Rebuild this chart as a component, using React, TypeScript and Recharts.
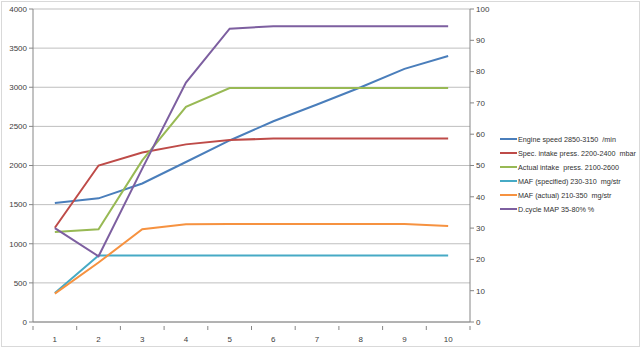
import React from 'react';
import {
  LineChart,
  Line,
  XAxis,
  YAxis,
  CartesianGrid,
  Legend,
} from 'recharts';

// Data
const categories = ['1', '2', '3', '4', '5', '6', '7', '8', '9', '10'];
const engineSpeed = [1520, 1580, 1770, 2045, 2320, 2565, 2780, 3000, 3235, 3400];
const specIntake = [1205, 2000, 2165, 2270, 2325, 2345, 2345, 2345, 2345, 2345];
const actualIntake = [1150, 1185, 2065, 2750, 2990, 2990, 2990, 2990, 2990, 2990];
const mafSpecified = [370, 850, 850, 850, 850, 850, 850, 850, 850, 850];
const mafActual = [362, 760, 1185, 1250, 1252, 1252, 1252, 1252, 1252, 1228];
const dCycleMap = [30, 21, 49, 76.5, 93.7, 94.5, 94.5, 94.5, 94.5, 94.5];

const leftTicks = [0, 500, 1000, 1500, 2000, 2500, 3000, 3500, 4000];
const rightTicks = [0, 10, 20, 30, 40, 50, 60, 70, 80, 90, 100];

const series = [
  { key: 'engine', name: 'Engine speed 2850-3150  /min', color: '#4a7ebb', axis: 'left' },
  { key: 'spec', name: 'Spec. intake press. 2200-2400  mbar', color: '#be4b48', axis: 'left' },
  { key: 'actual', name: 'Actual intake  press. 2100-2600', color: '#98b954', axis: 'left' },
  { key: 'mafSpec', name: 'MAF (specified) 230-310  mg/str', color: '#46aac5', axis: 'left' },
  { key: 'mafAct', name: 'MAF (actual) 210-350  mg/str', color: '#f69240', axis: 'left' },
  { key: 'dcycle', name: 'D.cycle MAP 35-80% %', color: '#7d5fa0', axis: 'right' },
];

const data = categories.map((c, i) => ({
  name: c,
  engine: engineSpeed[i],
  spec: specIntake[i],
  actual: actualIntake[i],
  mafSpec: mafSpecified[i],
  mafAct: mafActual[i],
  dcycle: dCycleMap[i],
}));

const FONT = '"Liberation Sans", Arial, sans-serif';
const AXIS_GRAY = '#868686';
const LABEL = '#404040';

// plot area 33..470 => band width, used for padding and boundary tick marks
const BAND = (470 - 33) / categories.length;

const XTick = (props: any) => {
  const { x, y, payload, index } = props;
  return (
    <g>
      <line x1={x - BAND / 2} y1={y - 4} x2={x - BAND / 2} y2={y} stroke={AXIS_GRAY} />
      {index === categories.length - 1 && (
        <line x1={x + BAND / 2} y1={y - 4} x2={x + BAND / 2} y2={y} stroke={AXIS_GRAY} />
      )}
      <text x={x} y={y + 12} textAnchor="middle" fontSize={8} fill={LABEL} fontFamily={FONT}>
        {payload.value}
      </text>
    </g>
  );
};

const LegendBox = () => (
  <div style={{ fontFamily: FONT, fontSize: 7.2, color: '#303030' }}>
    {series.map((s) => (
      <div key={s.key} style={{ display: 'flex', alignItems: 'center', height: 14 }}>
        <span style={{ display: 'inline-block', width: 17, height: 2, background: s.color, marginRight: 1 }} />
        <span style={{ whiteSpace: 'pre' }}>{s.name}</span>
      </div>
    ))}
  </div>
);

export default function App() {
  return (
    <div style={{ position: 'absolute', left: 0, top: 0, width: 640, height: 348, background: '#fff' }}>
      <div
        style={{
          position: 'absolute',
          left: 1,
          top: 1,
          width: 639,
          height: 346,
          border: '1px solid #d9d9d9',
          boxSizing: 'border-box',
          pointerEvents: 'none',
        }}
      />
      <LineChart
        width={640}
        height={348}
        data={data}
        margin={{ top: 9, right: 10, left: 0, bottom: 6 }}
      >
        <CartesianGrid vertical={false} stroke="#bfbfbf" yAxisId="left" />
        <XAxis
          dataKey="name"
          height={20}
          tick={<XTick />}
          tickLine={false}
          axisLine={{ stroke: AXIS_GRAY }}
          interval={0}
          padding={{ left: BAND / 2, right: BAND / 2 }}
        />
        <YAxis
          yAxisId="left"
          width={33}
          domain={[0, 4000]}
          ticks={leftTicks}
          interval={0}
          tickSize={4}
          tickLine={{ stroke: AXIS_GRAY }}
          axisLine={{ stroke: AXIS_GRAY }}
          tick={{ fontSize: 8, fill: LABEL, fontFamily: FONT }}
        />
        <YAxis
          yAxisId="right"
          orientation="right"
          width={20}
          domain={[0, 100]}
          ticks={rightTicks}
          interval={0}
          tickSize={4}
          tickLine={{ stroke: AXIS_GRAY }}
          axisLine={{ stroke: AXIS_GRAY }}
          tick={{ fontSize: 8, fill: LABEL, fontFamily: FONT, textAnchor: 'start' }}
        />
        <Legend
          content={<LegendBox />}
          layout="vertical"
          align="right"
          verticalAlign="top"
          wrapperStyle={{ left: 500, top: 132, width: 140 }}
        />
        {series.map((s) => (
          <Line
            key={s.key}
            yAxisId={s.axis}
            type="linear"
            dataKey={s.key}
            name={s.name}
            stroke={s.color}
            strokeWidth={2}
            dot={false}
            isAnimationActive={false}
          />
        ))}
      </LineChart>
    </div>
  );
}
